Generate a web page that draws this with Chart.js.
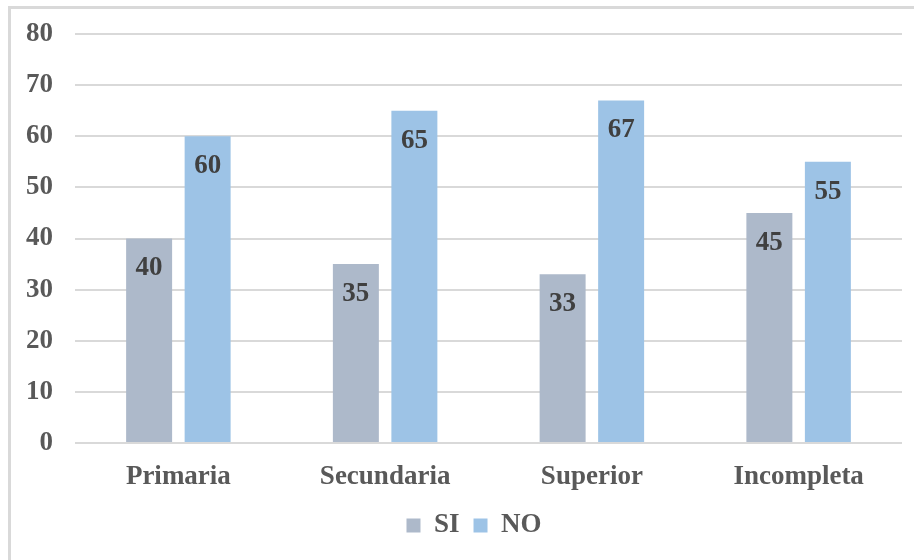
<!DOCTYPE html>
<html>
<head>
<meta charset="utf-8">
<script src="https://cdn.jsdelivr.net/npm/chart.js@4.4.1/dist/chart.umd.min.js"></script>
<style>
  html, body { margin: 0; padding: 0; background: #fff; }
  #wrap { position: relative; width: 914px; height: 560px; overflow: hidden; }
  #marco { position: absolute; left: 8px; top: 6px; width: 960px; height: 600px;
           border-left: 3px solid #d9d9d9; border-top: 3px solid #d9d9d9; }
  canvas { position: absolute; left: 0; top: 0; }
</style>
</head>
<body>
<div id="wrap">
  <div id="marco"></div>
  <canvas id="myChart" width="914" height="560"></canvas>
</div>
<script>
const categorias = ['Primaria', 'Secundaria', 'Superior', 'Incompleta'];
const valoresSi = [40, 35, 33, 45];
const valoresNo = [60, 65, 67, 55];
const ticksY = [0, 10, 20, 30, 40, 50, 60, 70, 80];

const fuente = '"Liberation Serif", "Times New Roman", serif';

// etiquetas de valor dentro de cada barra
const etiquetasBarras = {
    id: 'etiquetasBarras',
    afterDatasetsDraw(chart) {
        const ctx = chart.ctx;
        ctx.save();
        ctx.font = 'bold 27px ' + fuente;
        ctx.fillStyle = '#404040';
        ctx.textAlign = 'center';
        ctx.textBaseline = 'middle';
        chart.data.datasets.forEach((ds, i) => {
            chart.getDatasetMeta(i).data.forEach((bar, j) => {
                ctx.fillText(ds.data[j], bar.x, bar.y + 30);
            });
        });
        ctx.restore();
    }
};

// mover la leyenda un poco a la derecha, como en el original
const moverLeyenda = {
    id: 'moverLeyenda',
    afterLayout(chart) {
        chart.legend.left += 46;
    }
};

function iniciarApp(){
    const ctx = document.getElementById('myChart').getContext('2d');
    new Chart(ctx, {
        type: 'bar',
        data: {
            labels: categorias,
            datasets: [{
                label: 'SI',
                data: valoresSi,
                backgroundColor: '#adb9ca'
            }, {
                label: 'NO',
                data: valoresNo,
                backgroundColor: '#9dc3e6'
            }]
        },
        options: {
            responsive: false,
            animation: false,
            categoryPercentage: 0.566,
            barPercentage: 0.786,
            layout: { padding: { top: 34, right: 12, left: 0, bottom: 11 } },
            plugins: {
                tooltip: { enabled: false },
                legend: {
                    position: 'bottom',
                    labels: {
                        boxWidth: 14,
                        boxHeight: 14,
                        padding: 14,
                        color: '#595959',
                        font: { family: fuente, size: 27, weight: 'bold' }
                    }
                }
            },
            scales: {
                x: {
                    afterFit(scale) { scale.height = 55; },
                    grid: { display: false, drawTicks: false },
                    border: { display: false },
                    ticks: {
                        padding: 18,
                        color: '#595959',
                        font: { family: fuente, size: 27, weight: 'bold' }
                    }
                },
                y: {
                    min: 0,
                    max: 80,
                    afterFit(scale) {
                        scale.width = 75;
                        scale.paddingTop = 0;
                        scale.paddingBottom = 0;
                    },
                    afterBuildTicks(scale) { scale.ticks = ticksY.map(v => ({ value: v })); },
                    grid: { color: '#d9d9d9', lineWidth: 2, drawTicks: false },
                    border: { display: false },
                    ticks: {
                        padding: 22,
                        color: '#595959',
                        font: { family: fuente, size: 27, weight: 'bold' }
                    }
                }
            }
        },
        plugins: [etiquetasBarras, moverLeyenda]
    });
}

document.addEventListener('DOMContentLoaded', function(){
    iniciarApp();
});
</script>
</body>
</html>
